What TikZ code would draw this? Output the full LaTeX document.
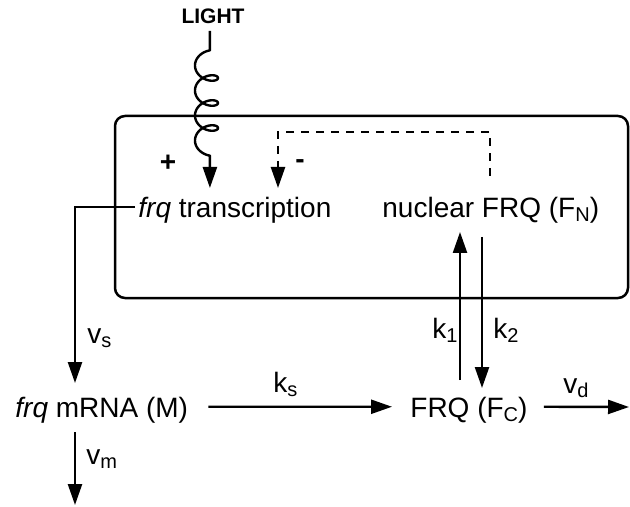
\documentclass[tikz,border=0pt]{standalone}
\usepackage{fontspec}
\setmainfont{Liberation Sans}
\usetikzlibrary{arrows.meta}
\newcommand{\mysub}[1]{\raisebox{-2pt}{\fontsize{10}{10}\selectfont #1}}
\tikzset{
  txt/.style={inner sep=0pt, font=\fontsize{14}{16}\selectfont},
  lbl/.style={inner sep=0pt, font=\fontsize{14}{16}\selectfont},
  arr/.style={line width=1.2pt, -{Triangle[length=10.5pt,width=7pt]}},
  fbline/.style={line width=1.2pt, dash pattern=on 4pt off 3.5pt, -{Triangle[length=10.5pt,width=7pt]}},
  cellbox/.style={draw, line width=1.25pt, rounded corners=5pt, inner sep=0pt}
}
\begin{document}
\begin{tikzpicture}[x=0.5pt,y=-0.5pt]
\useasboundingbox (0,0) rectangle (630,507);
% cell compartment
\node[cellbox, minimum width=256.5pt, minimum height=91pt] (cell) at (371.5,207) {};
% text nodes
\node[inner sep=0pt, font=\fontsize{10.5}{12}\selectfont\bfseries] (light) at (213,16) {LIGHT};
\node[txt, anchor=base west] (trans) at (138,218) {\textit{frq} transcription};
\node[txt, anchor=base west] (nuc) at (382,218) {nuclear FRQ (F\mysub{N})};
\node[txt, anchor=base west] (mrna) at (15,417) {\textit{frq} mRNA (M)};
\node[txt, anchor=base west] (frqc) at (410,417) {FRQ (F\mysub{C})};
% labels
\node[lbl, font=\fontsize{14}{16}\selectfont\bfseries] (plus) at (168,163) {+};
\node[lbl, font=\fontsize{14}{16}\selectfont\bfseries] (minus) at (300,164) {-};
\node[lbl, anchor=base west] (vs) at (87,343) {v\mysub{s}};
\node[lbl, anchor=base west] (vm) at (86,464) {v\mysub{m}};
\node[lbl, anchor=base west] (ks) at (273,392) {k\mysub{s}};
\node[lbl, anchor=base west] (k1) at (432,338) {k\mysub{1}};
\node[lbl, anchor=base west] (k2) at (493,338) {k\mysub{2}};
\node[lbl, anchor=base west] (vd) at (563,393) {v\mysub{d}};
% coordinates for free ends
\coordinate (lightStart) at (209.9,31);
\coordinate (lightTip) at (209.9,188);
\coordinate (fbStart) at (490,176);
\coordinate (fbCorner) at (490,132);
\coordinate (fbTip) at (278,188);
\coordinate (vsTip) at (75,383);
\coordinate (vmStart) at (75,432);
\coordinate (vmTip) at (75,505);
\coordinate (vdTip) at (629,407);
\coordinate (kUpStart) at (460,380);
\coordinate (kUpTip) at (460,232);
\coordinate (kDownStart) at (482,237);
\coordinate (kDownTip) at (482,388);
% light input (coiled line)
\draw[arr, line join=round] (lightStart)
  -- plot[domain=1.27:23.863, samples=240, smooth, variable=\t]
     ({206.5+11.5*cos(\t r)},{53+3.98*\t-8*sin(\t r)})
  -- (lightTip);
% negative feedback
\draw[fbline] (fbStart) -- (fbCorner) -| (fbTip);
% transcription -> mRNA
\draw[arr] ([xshift=-1.5pt,yshift=2pt]trans.west) -| (vsTip);
\draw[arr] (vmStart) -- (vmTip);
\draw[arr] ([xshift=10pt,yshift=1.5pt]mrna.east) -- ([xshift=-9pt,yshift=1.5pt]frqc.west);
\draw[arr] ([xshift=8pt,yshift=1.5pt]frqc.east) -- (vdTip);
\draw[arr] (kUpStart) -- (kUpTip);
\draw[arr] (kDownStart) -- (kDownTip);
\end{tikzpicture}
\end{document}
